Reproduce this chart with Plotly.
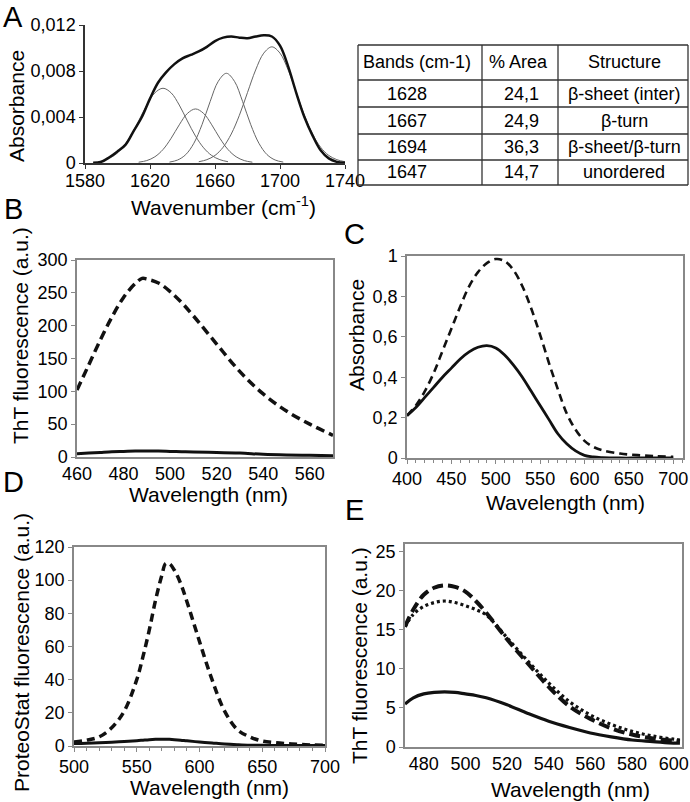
import plotly.graph_objects as go

FONT = "Liberation Sans, Arial, sans-serif"
W, H = 690, 802

# --- A: FTIR amide I band and its fitted components ---
a_env_wn = [1585, 1590, 1595, 1600, 1605, 1610, 1615, 1620, 1625, 1630, 1635, 1640,
            1645, 1650, 1655, 1660, 1665, 1670, 1675, 1680, 1685, 1690, 1695, 1700,
            1705, 1710, 1715, 1720, 1725, 1730, 1735, 1740]
a_env = [0.00002, 0.0001, 0.0005, 0.001, 0.0016, 0.0028, 0.0040, 0.0056, 0.0070, 0.0079,
         0.0086, 0.0091, 0.0094, 0.0097, 0.0101, 0.0106, 0.0109, 0.0110, 0.0109, 0.01085,
         0.0110, 0.0111, 0.0110, 0.0102, 0.0084, 0.0061, 0.0040, 0.0024, 0.0011, 0.0004,
         0.0001, 0.00002]

a_g1_wn = [1588, 1593, 1598, 1603, 1608, 1613, 1618, 1623, 1628, 1633, 1638, 1643, 1648,
           1653, 1658, 1663, 1668]
a_g1 = [0.00011, 0.00029, 0.00065, 0.00132, 0.00234, 0.00366, 0.00504, 0.0061, 0.0065,
        0.0061, 0.00504, 0.00366, 0.00234, 0.00132, 0.00065, 0.00029, 0.00011]
a_g2_wn = [1613, 1618, 1623, 1628, 1633, 1638, 1643, 1648, 1653, 1658, 1663, 1668, 1673,
           1678, 1683]
a_g2 = [0.00007, 0.00021, 0.00054, 0.00117, 0.00215, 0.00332, 0.00431, 0.0047, 0.00431,
        0.00332, 0.00215, 0.00117, 0.00054, 0.00021, 0.00007]
a_g3_wn = [1632, 1637, 1642, 1647, 1652, 1657, 1662, 1667, 1672, 1677, 1682, 1687, 1692,
           1697, 1702]
a_g3 = [0.00008, 0.00026, 0.00073, 0.00172, 0.00333, 0.00534, 0.0071, 0.0078, 0.0071,
        0.00534, 0.00333, 0.00172, 0.00073, 0.00026, 0.00008]
a_g4_wn = [1650, 1655, 1660, 1665, 1670, 1675, 1680, 1685, 1690, 1695, 1700, 1705, 1710,
           1715, 1720, 1725, 1730, 1735, 1740]
a_g4 = [0.00011, 0.00029, 0.00066, 0.00137, 0.00252, 0.00415, 0.00613, 0.00809, 0.00955,
        0.0101, 0.00955, 0.00809, 0.00613, 0.00415, 0.00252, 0.00137, 0.00066, 0.00029,
        0.00011]

table_header = ["Bands (cm-1)", "% Area", "Structure"]
bands = ["1628", "1667", "1694", "1647"]
areas = ["24,1", "24,9", "36,3", "14,7"]
structures = ["β-sheet (inter)", "β-turn", "β-sheet/β-turn", "unordered"]

# --- B: ThT fluorescence ---
b_nm = [460, 465, 470, 475, 480, 485, 488, 490, 495, 500, 505, 510, 520, 530, 540, 550,
        560, 570]
b_dashed = [102, 140, 178, 213, 243, 264, 272, 271, 265, 252, 235, 215, 172, 130, 96, 70,
            50, 33]
b_solid = [5, 6, 7, 8, 8.5, 9, 9, 9, 9, 8.5, 8, 7.5, 7, 6, 4, 3, 2.5, 2]

# --- C: absorbance ---
c_nm = [400, 410, 420, 430, 440, 450, 460, 470, 480, 490, 500, 510, 520, 530, 540, 550,
        560, 570, 580, 590, 600, 610, 620, 640, 660, 680, 700]
c_dashed = [0.21, 0.26, 0.33, 0.42, 0.53, 0.64, 0.75, 0.85, 0.92, 0.965, 0.985, 0.975,
            0.93, 0.85, 0.74, 0.61, 0.47, 0.34, 0.22, 0.14, 0.085, 0.055, 0.038, 0.022,
            0.014, 0.009, 0.006]
c_solid = [0.21, 0.25, 0.30, 0.35, 0.40, 0.445, 0.49, 0.525, 0.548, 0.556, 0.545, 0.51,
           0.46, 0.40, 0.33, 0.26, 0.19, 0.12, 0.07, 0.035, 0.013, 0.005, 0.002, 0.0,
           0.0, 0.0, 0.0]

# --- D: ProteoStat fluorescence ---
d_nm = [500, 510, 520, 530, 540, 550, 555, 560, 565, 570, 573, 576, 580, 585, 590, 600,
        610, 620, 630, 640, 650, 660, 670, 680, 690, 700]
d_dashed = [2.4, 3.5, 5.5, 11, 21, 40, 54, 70, 88, 103, 110, 110, 106, 98, 87, 63, 40, 21,
            10, 5.5, 3, 2, 1.4, 1, 0.6, 0.4]
d_solid = [1.5, 1.7, 2, 2.3, 2.7, 3.2, 3.5, 3.8, 4, 4.1, 4.1, 4, 3.8, 3.5, 3.1, 2.4, 1.8,
           1.2, 0.8, 0.5, 0.4, 0.3, 0.3, 0.3, 0.3, 0.3]

# --- E: ThT fluorescence, three samples ---
e_nm = [471, 475, 480, 485, 490, 495, 500, 505, 510, 520, 530, 540, 550, 560, 570, 580,
        590, 600, 603]
e_dashed = [15.4, 17.6, 19.5, 20.4, 20.7, 20.5, 19.9, 18.7, 17.2, 13.8, 10.7, 7.7, 5.2,
            3.6, 2.4, 1.6, 1.1, 0.8, 0.7]
e_dotted = [15.4, 17.0, 18.0, 18.5, 18.7, 18.5, 18.1, 17.6, 16.9, 14.0, 11.0, 8.2, 5.8,
            4.1, 2.9, 2.0, 1.4, 1.0, 0.9]
e_solid = [5.5, 6.3, 6.8, 7.0, 7.05, 7.0, 6.8, 6.6, 6.3, 5.4, 4.3, 3.3, 2.5, 1.8, 1.3, 0.9,
           0.7, 0.5, 0.5]


def px_x(v):
    return v / W


def px_y(v):
    return 1 - v / H


def dom_x(left, right):
    return [px_x(left), px_x(right)]


def dom_y(top, bottom):
    return [px_y(bottom), px_y(top)]


def line(x, y, n, width, dash="solid", color="#111"):
    return go.Scatter(x=x, y=y, mode="lines", xaxis=f"x{n}", yaxis=f"y{n}",
                      line=dict(color=color, width=width, dash=dash, shape="spline"),
                      showlegend=False, hoverinfo="skip")


fig = go.Figure()

# A
fig.add_trace(line(a_g1_wn, a_g1, "", 1, color="#666"))
fig.add_trace(line(a_g2_wn, a_g2, "", 1, color="#666"))
fig.add_trace(line(a_g3_wn, a_g3, "", 1, color="#666"))
fig.add_trace(line(a_g4_wn, a_g4, "", 1, color="#666"))
fig.add_trace(line(a_env_wn, a_env, "", 2.5))
# B
fig.add_trace(line(b_nm, b_solid, 2, 3))
fig.add_trace(line(b_nm, b_dashed, 2, 3.5, "9px,5px"))
# C
fig.add_trace(line(c_nm, c_solid, 3, 2.8))
fig.add_trace(line(c_nm, c_dashed, 3, 2.6, "8px,5px"))
# D
fig.add_trace(line(d_nm, d_solid, 4, 3))
fig.add_trace(line(d_nm, d_dashed, 4, 3.5, "8px,5px"))
# E
fig.add_trace(line(e_nm, e_solid, 5, 3.2))
fig.add_trace(line(e_nm, e_dotted, 5, 3.2, "3px,3px"))
fig.add_trace(line(e_nm, e_dashed, 5, 4, "11px,5px"))

tickfont = dict(family=FONT, size=18, color="black")
frame = dict(showline=True, linecolor="#888", linewidth=1.5, mirror=True, showgrid=False,
             zeroline=False, ticks="outside", ticklen=4, tickcolor="#888", tickfont=tickfont,
             automargin=False)
bare = dict(showline=True, linecolor="#333", linewidth=1.5, mirror=False, showgrid=False,
            zeroline=False, ticks="outside", ticklen=4, tickcolor="#333", tickfont=tickfont,
            automargin=False)

fig.update_layout(
    width=W, height=H,
    margin=dict(l=0, r=0, t=0, b=0, autoexpand=False),
    paper_bgcolor="white", plot_bgcolor="white",
    separators=",.",
    font=dict(family=FONT, color="black"),
    xaxis=dict(bare, domain=dom_x(85, 345), range=[1580, 1740], tick0=1580, dtick=40,
               anchor="y", ticklabelstandoff=-3),
    yaxis=dict(bare, domain=dom_y(25, 163), range=[0, 0.012], dtick=0.004, anchor="x"),
    xaxis2=dict(frame, domain=dom_x(77, 333), range=[460, 570], dtick=20, anchor="y2",
                ticks=""),
    yaxis2=dict(frame, domain=dom_y(260, 457), range=[0, 300], dtick=50, anchor="x2"),
    xaxis3=dict(frame, domain=dom_x(407, 683), range=[400, 711], dtick=50, anchor="y3",
                minor=dict(ticks="outside", ticklen=3, dtick=10, tickcolor="#888")),
    yaxis3=dict(frame, domain=dom_y(256, 458), range=[0, 1], dtick=0.2, anchor="x3"),
    xaxis4=dict(frame, domain=dom_x(74, 325), range=[500, 700], dtick=50, anchor="y4",
                minor=dict(ticks="outside", ticklen=3, dtick=10, tickcolor="#888")),
    yaxis4=dict(frame, domain=dom_y(547, 746), range=[0, 120], dtick=20, anchor="x4"),
    xaxis5=dict(frame, domain=dom_x(405, 682), range=[471, 604], tick0=480, dtick=20,
                anchor="y5", ticks=""),
    yaxis5=dict(frame, domain=dom_y(544, 747), range=[0, 26], dtick=5, anchor="x5"),
)

# table of band assignments, drawn from the lists above
col_edges = [358, 482, 558, 688]
row_edges = [45, 80, 107, 134, 160, 185]
for yy in row_edges:
    fig.add_shape(type="line", xref="paper", yref="paper", x0=px_x(col_edges[0]),
                  x1=px_x(col_edges[-1]), y0=px_y(yy), y1=px_y(yy),
                  line=dict(color="#333", width=1.3))
for xx in col_edges:
    fig.add_shape(type="line", xref="paper", yref="paper", x0=px_x(xx), x1=px_x(xx),
                  y0=px_y(row_edges[0]), y1=px_y(row_edges[-1]),
                  line=dict(color="#333", width=1.3))


def label(text, x, y, size, angle=0, anchor="center"):
    fig.add_annotation(text=text, x=px_x(x), y=px_y(y), xref="paper", yref="paper",
                       showarrow=False, textangle=angle, xanchor=anchor, yanchor="middle",
                       font=dict(family=FONT, size=size, color="black"))


head_y = (row_edges[0] + row_edges[1]) / 2
label(table_header[0], 361, head_y, 18, anchor="left")
label(table_header[1], 518, head_y, 18)
label(table_header[2], 624, head_y, 18)
for i in range(len(bands)):
    ry = (row_edges[i + 1] + row_edges[i + 2]) / 2
    label(bands[i], 385, ry, 18, anchor="left")
    label(areas[i], 521, ry, 18)
    label(structures[i], 624, ry, 18)

for letter, lx, ly in [("A", 13, 17), ("B", 13, 209), ("C", 355, 234),
                       ("D", 13, 482), ("E", 355, 510)]:
    label(letter, lx, ly, 29)

label("Absorbance", 17, 106, 21, -90)
label("Wavenumber (cm<sup>-1</sup>)", 224, 206, 21)
label("ThT fluorescence (a.u.)", 20, 336, 21, -90)
label("Wavelength (nm)", 208, 494, 21)
label("Absorbance", 356, 335, 21, -90)
label("Wavelength (nm)", 565, 502, 21)
label("ProteoStat fluorescence (a.u.)", 21, 653, 21, -90)
label("Wavelength (nm)", 209, 787, 21)
label("ThT fluorescence (a.u.)", 359, 655, 21, -90)
label("Wavelength (nm)", 570, 789, 21)

# the page's default body margin would push the 690x802 figure past the window edge
fig.write_html("out.html", config={"displayModeBar": False},
               post_script="document.body.style.margin='0';"
                           "document.body.style.overflow='hidden';")
